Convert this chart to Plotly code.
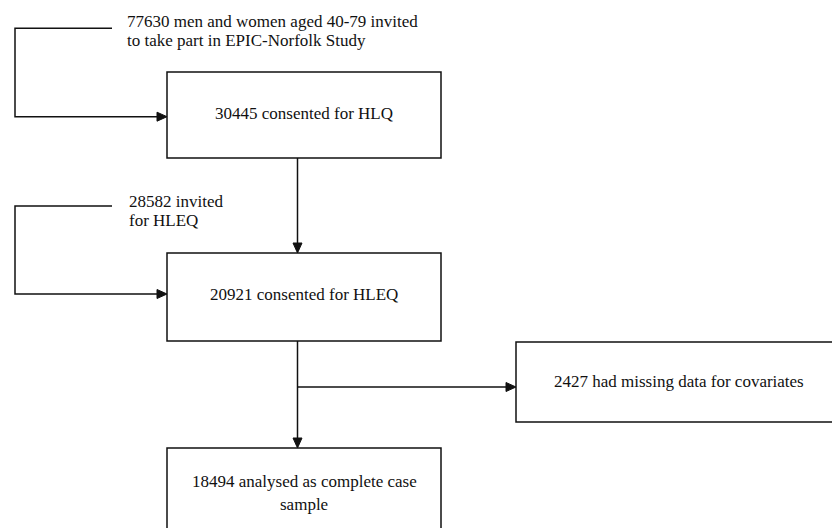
import plotly.graph_objects as go

# ---- data: participant counts and wording of each flowchart stage ----
stage_counts = [77630, 30445, 28582, 20921, 2427, 18494]
stage_lines = [
    ["{} men and women aged 40-79 invited", "to take part in EPIC-Norfolk Study"],
    ["{} consented for HLQ"],
    ["{} invited", "for HLEQ"],
    ["{} consented for HLEQ"],
    ["{} had missing data for covariates"],
    ["{} analysed as complete case", "sample"],
]

# ---- layout (pixel coordinates, y downwards) ----
W, H = 832, 528
INK = "#111111"
LW = 1.5
FONT = dict(family="Liberation Serif, Times New Roman, serif", size=17, color=INK)

# boxes: stage index -> (x0, y0, x1, y1)
boxes = {
    1: (167, 72, 441, 158),
    3: (167, 253, 441, 341),
    4: (516, 342, 860, 422),
    5: (167, 448, 441, 545),
}
# text placement: stage index -> (x, anchor, [line y centres])
text_pos = {
    0: (125, "left", [21.7, 40.8]),
    1: (304, "center", [113.5]),
    2: (127, "left", [201.7, 220]),
    3: (304, "center", [294.5]),
    4: (679, "center", [381]),
    5: (304, "center", [481, 504.5]),
}
# connectors: polyline points, last segment ends with an arrow
connectors = [
    [(112, 28.3), (15, 28.3), (15, 116.7), (167, 116.7)],
    [(112, 206), (15, 206), (15, 294), (167, 294)],
    [(297.5, 158), (297.5, 253)],
    [(297.5, 341), (297.5, 448)],
    [(297.5, 387), (516, 387)],
]
AL, AW = 10, 4.5  # arrowhead length, half width

fig = go.Figure()
shapes = []
for i, (x0, y0, x1, y1) in boxes.items():
    shapes.append(dict(type="rect", xref="x", yref="y", x0=x0, y0=y0, x1=x1, y1=y1,
                       line=dict(color=INK, width=LW), fillcolor="rgba(0,0,0,0)"))

for pts in connectors:
    (xa, ya), (xb, yb) = pts[-2], pts[-1]
    dx, dy = xb - xa, yb - ya
    L = (dx * dx + dy * dy) ** 0.5
    ux, uy = dx / L, dy / L
    bx, by = xb - ux * AL, yb - uy * AL
    line_pts = pts[:-1] + [(bx, by)]
    path = "M " + " L ".join(f"{x},{y}" for x, y in line_pts)
    shapes.append(dict(type="path", xref="x", yref="y", path=path,
                       line=dict(color=INK, width=LW)))
    px, py = -uy, ux
    tri = (f"M {xb},{yb} L {bx + px * AW},{by + py * AW} "
           f"L {bx - px * AW},{by - py * AW} Z")
    shapes.append(dict(type="path", xref="x", yref="y", path=tri,
                       line=dict(color=INK, width=1), fillcolor=INK))

annotations = []
for i, (x, anchor, ys) in text_pos.items():
    for j, y in enumerate(ys):
        txt = stage_lines[i][j]
        if "{}" in txt:
            txt = txt.format(stage_counts[i])
        annotations.append(dict(x=x, y=y, xref="x", yref="y", text=txt,
                                showarrow=False, xanchor=anchor, yanchor="middle",
                                font=FONT))

fig.update_layout(
    width=W, height=H,
    margin=dict(l=0, r=0, t=0, b=0),
    paper_bgcolor="white", plot_bgcolor="white",
    font=FONT,
    xaxis=dict(range=[0, W], visible=False, fixedrange=True),
    yaxis=dict(range=[H, 0], visible=False, fixedrange=True),
    shapes=shapes, annotations=annotations, showlegend=False,
)
fig.write_html(
    "out.html",
    config={"displayModeBar": False, "staticPlot": True},
    post_script="document.body.style.margin='0';document.body.style.overflow='hidden';",
)
